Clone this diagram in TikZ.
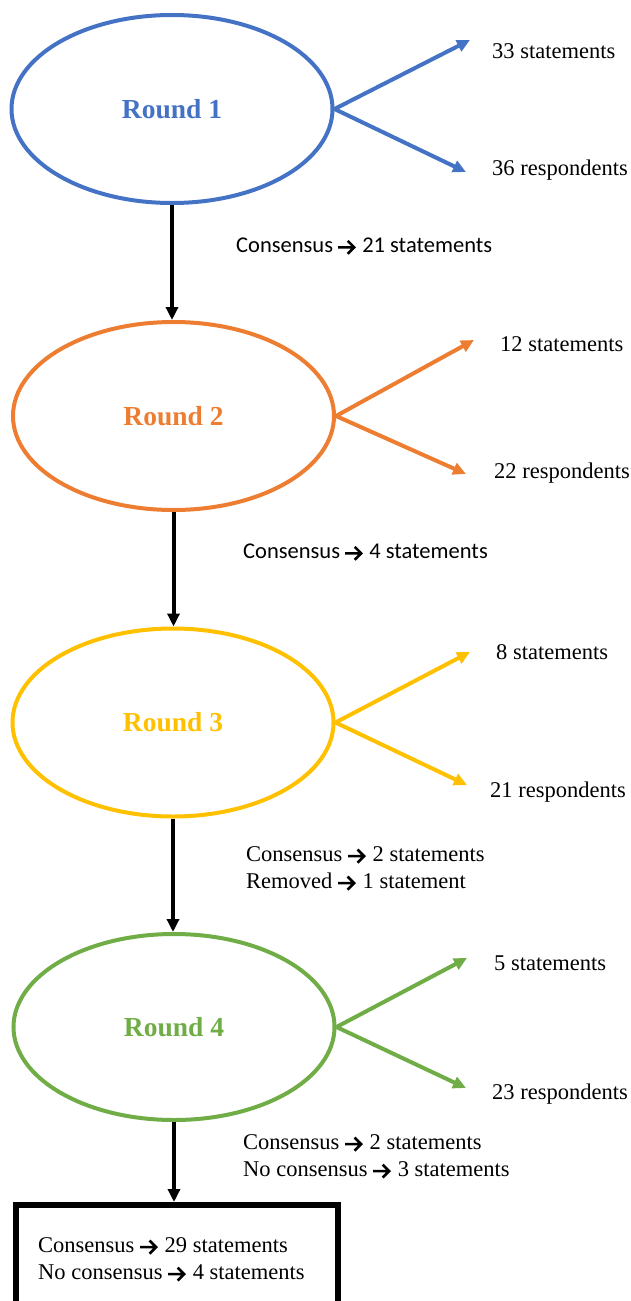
\documentclass[tikz,border=0pt]{standalone}
\usepackage{fontspec}
\setmainfont{Liberation Serif}
\newfontfamily\calibri{Carlito}
\usetikzlibrary{shapes.geometric, arrows.meta, positioning}

\definecolor{roundblue}{RGB}{68,114,196}
\definecolor{roundorange}{RGB}{237,125,49}
\definecolor{roundgold}{RGB}{255,192,0}
\definecolor{roundgreen}{RGB}{112,173,71}

% bold chevron arrow used inside the texts
\newcommand{\toarr}{\tikz[x=1pt, y=1pt, baseline=0pt]{
    \useasboundingbox (0,-1) rectangle (19,12);
    \draw[black, line width=2.6pt, line join=miter]
        (0,5.5) -- (15.5,5.5) (9.5,12) -- (16,5.5) -- (9.5,-1);}}

\begin{document}
\begin{tikzpicture}[x=1pt, y=-1pt, >={Triangle[length=13pt,width=12pt]},
    round/.style={ellipse, draw=#1, text=#1, line width=4pt, inner sep=0pt,
        minimum width=321pt, minimum height=188pt,
        font=\fontsize{27.5}{32}\selectfont\bfseries},
    count/.style={anchor=base west, inner sep=0pt, font=\fontsize{22.5}{27}\selectfont},
    note/.style={anchor=north west, inner sep=0pt, align=left,
        font=\fontsize{22.5}{27}\selectfont},
    flow/.style={->, line width=4pt},
    split/.style={->, line width=4pt, draw=#1}]
    \useasboundingbox (0,0) rectangle (630,1301);

    % Rounds
    \node[round=roundblue]   (r1) at (172,109)    {Round 1};
    \node[round=roundorange] (r2) at (173.5,416)  {Round 2};
    \node[round=roundgold]   (r3) at (173,722.5)  {Round 3};
    \node[round=roundgreen, minimum height=186pt] (r4) at (174,1027) {Round 4};

    % Final box
    \node[draw, line width=6pt, minimum width=322pt, minimum height=140pt,
        anchor=north, inner sep=0pt] (final) at (177,1202) {};
    \node[note] (finaltxt) at (38,1237.5)
        {Consensus \toarr{} 29 statements\\No consensus \toarr{} 4 statements};

    % Counts per round
    \coordinate (t1a) at (470,40);  \coordinate (t1b) at (466,172);
    \coordinate (t2a) at (474,340); \coordinate (t2b) at (466,474);
    \coordinate (t3a) at (470,652); \coordinate (t3b) at (467,785);
    \coordinate (t4a) at (467,958); \coordinate (t4b) at (466,1088);

    \node[count] (s1) at (492,58)   {33 statements};
    \node[count] (p1) at (492,175)  {36 respondents};
    \node[count] (s2) at (500,351)  {12 statements};
    \node[count] (p2) at (494,478)  {22 respondents};
    \node[count] (s3) at (496,659)  {8 statements};
    \node[count] (p3) at (490,797)  {21 respondents};
    \node[count] (s4) at (494,970)  {5 statements};
    \node[count] (p4) at (492,1099) {23 respondents};

    \draw[split=roundblue]   (r1.east) -- (t1a);
    \draw[split=roundblue]   (r1.east) -- (t1b);
    \draw[split=roundorange] (r2.east) -- (t2a);
    \draw[split=roundorange] (r2.east) -- (t2b);
    \draw[split=roundgold]   (r3.east) -- (t3a);
    \draw[split=roundgold]   (r3.east) -- (t3b);
    \draw[split=roundgreen]  (r4.east) -- (t4a);
    \draw[split=roundgreen]  (r4.east) -- (t4b);

    % Flow between rounds
    \draw[flow] (r1.south) -- (r1.south |- r2.north);
    \draw[flow] (r2.south) -- (r2.south |- r3.north);
    \draw[flow] (r3.south) -- (r3.south |- r4.north);
    \draw[flow] (r4.south) -- (r4.south |- final.north);

    \node[note, font=\calibri\fontsize{22.5}{27}\selectfont] (c1) at (236,238)
        {Consensus \toarr{} 21 statements};
    \node[note, font=\calibri\fontsize{22.5}{27}\selectfont] (c2) at (243,544)
        {Consensus \toarr{} 4 statements};
    \node[note] (c3) at (246,846.5)
        {Consensus \toarr{} 2 statements\\Removed \toarr{} 1 statement};
    \node[note] (c4) at (243,1134.5)
        {Consensus \toarr{} 2 statements\\No consensus \toarr{} 3 statements};
\end{tikzpicture}
\end{document}
